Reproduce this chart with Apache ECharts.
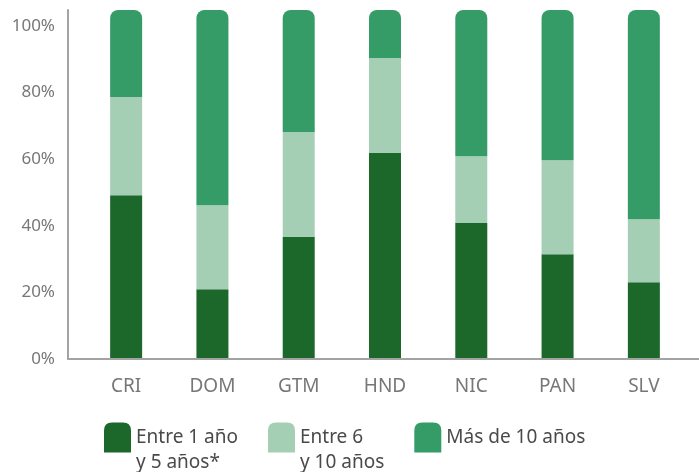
<!DOCTYPE html>
<html>
<head>
<meta charset="utf-8">
<script src="https://cdn.jsdelivr.net/npm/echarts@6/dist/echarts.min.js"></script>
<style>
  html, body { margin: 0; padding: 0; background: #fff; }
  #main { width: 699px; height: 472px; }
</style>
</head>
<body>
<div id="main"></div>
<script>
// data (percent, on the axis scale)
var paises = ['CRI', 'DOM', 'GTM', 'HND', 'NIC', 'PAN', 'SLV'];
var entre1y5 = [49.1, 20.9, 36.6, 61.8, 40.8, 31.4, 23.0];
var entre6y10 = [29.5, 25.2, 31.5, 28.5, 20.0, 28.2, 18.9];
var masDe10 = [26.1, 58.6, 36.6, 14.4, 43.9, 45.1, 62.8];
var nombres = ['Entre 1 año\ny 5 años*', 'Entre 6\ny 10 años', 'Más de 10 años'];
var yMax = 104.7;

var colores = ['#1c682b', '#a5cfb4', '#359c68'];
var fuente = '"Noto Sans", sans-serif';
var iconoLeyenda = 'path://M0,8 Q0,0 8,0 L19,0 Q27,0 27,8 L27,30 L0,30 Z';

var myChart = echarts.init(document.getElementById('main'));

myChart.setOption({
    animation: false,
    textStyle: { fontFamily: fuente },
    grid: { left: 83, right: 12, top: 10, bottom: 113 },
    legend: {
        left: 99,
        top: 395,
        itemWidth: 27,
        itemHeight: 30,
        itemGap: 30,
        icon: iconoLeyenda,
        textStyle: { fontSize: 19, color: '#4a4a4a', lineHeight: 25, fontFamily: fuente },
        // two-line names get an empty line on top so the first line sits beside the icon
        formatter: function (name) {
            return name.indexOf('\n') >= 0 ? ' \n' + name : name;
        },
        data: nombres
    },
    xAxis: {
        type: 'category',
        data: paises,
        axisLine: { show: false },
        axisTick: { show: false },
        axisLabel: { fontSize: 19, color: '#777', margin: 18, fontFamily: fuente }
    },
    yAxis: {
        type: 'value',
        min: 0,
        max: yMax,
        interval: 20,
        offset: 15,
        axisLine: { show: true, lineStyle: { color: '#a3a3a3', width: 2 } },
        axisTick: { show: false },
        splitLine: { show: false },
        axisLabel: {
            fontSize: 17,
            color: '#777',
            margin: 13,
            padding: [0, 0, 6, 0],
            showMaxLabel: false,
            fontFamily: fuente,
            formatter: function (v) { return v > 100 ? '' : v + '%'; }
        }
    },
    series: [
        { name: nombres[0], type: 'bar', stack: 't', barWidth: 32, data: entre1y5, itemStyle: { color: colores[0] } },
        { name: nombres[1], type: 'bar', stack: 't', barWidth: 32, data: entre6y10, itemStyle: { color: colores[1] } },
        { name: nombres[2], type: 'bar', stack: 't', barWidth: 32, data: masDe10, itemStyle: { color: colores[2], borderRadius: [8, 8, 0, 0] } }
    ],
    graphic: [
        {
            type: 'line',
            z: 10,
            shape: { x1: 67, y1: 359, x2: 699, y2: 359 },
            style: { stroke: '#a3a3a3', lineWidth: 2 }
        }
    ]
});
</script>
</body>
</html>
